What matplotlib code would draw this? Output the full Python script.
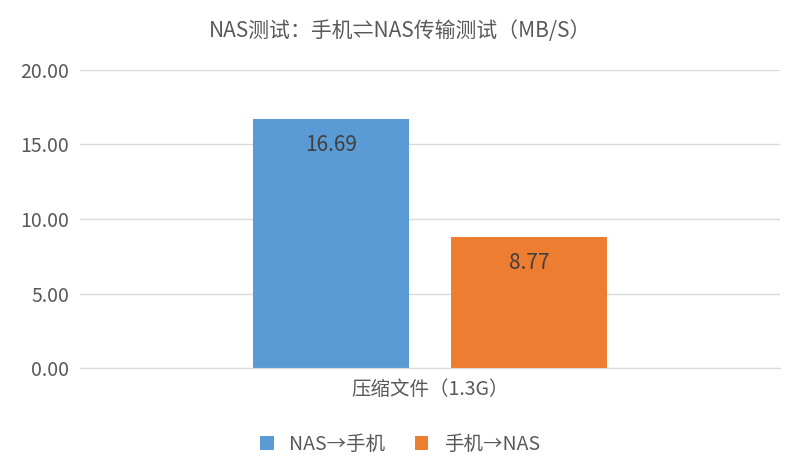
import matplotlib
matplotlib.use("Agg")
import matplotlib.pyplot as plt

plt.rcParams['font.family'] = ['Noto Sans CJK SC', 'DejaVu Sans']

series = ["NAS→手机", "手机→NAS"]
values = [16.69, 8.77]
colors = ["#5B9BD5", "#ED7D31"]
category = "压缩文件（1.3G）"
yticks = [0, 5, 10, 15, 20]

fig = plt.figure(figsize=(8, 4.72), dpi=100)
ax = fig.add_axes([0.1, 0.22, 0.875, 0.632])
offsets = [-99, 99]
for s, v, c, o in zip(series, values, colors, offsets):
    ax.bar(350 + o, v, width=156, color=c, label=s)
    ax.text(350 + o, v - 1.0, f"{v:.2f}", ha='center', va='top', fontsize=15, color='#404040')
ax.set_xlim(0, 700)
ax.set_ylim(0, 20)
ax.set_yticks(yticks)
ax.set_yticklabels([f"{t:.2f}" for t in yticks], fontsize=14, color='#595959')
ax.set_xticks([350])
ax.set_xticklabels([category], fontsize=14, color='#595959')
ax.tick_params(length=0, pad=8)
ax.grid(axis='y', color='#D9D9D9', linewidth=1)
ax.set_axisbelow(True)
for sp in ['top', 'right', 'left']:
    ax.spines[sp].set_visible(False)
ax.spines['bottom'].set_color('#D9D9D9')
fig.text(0.5, 0.935, "NAS测试：手机⇌NAS传输测试（MB/S）", ha='center', va='center', fontsize=15, color='#595959')
fig.legend(loc='lower center', bbox_to_anchor=(0.5, 0.0), ncol=2, frameon=False, fontsize=14,
           handlelength=0.7, handleheight=0.7, columnspacing=1.5, labelcolor='#595959')
fig.savefig("out.png", dpi=100)
